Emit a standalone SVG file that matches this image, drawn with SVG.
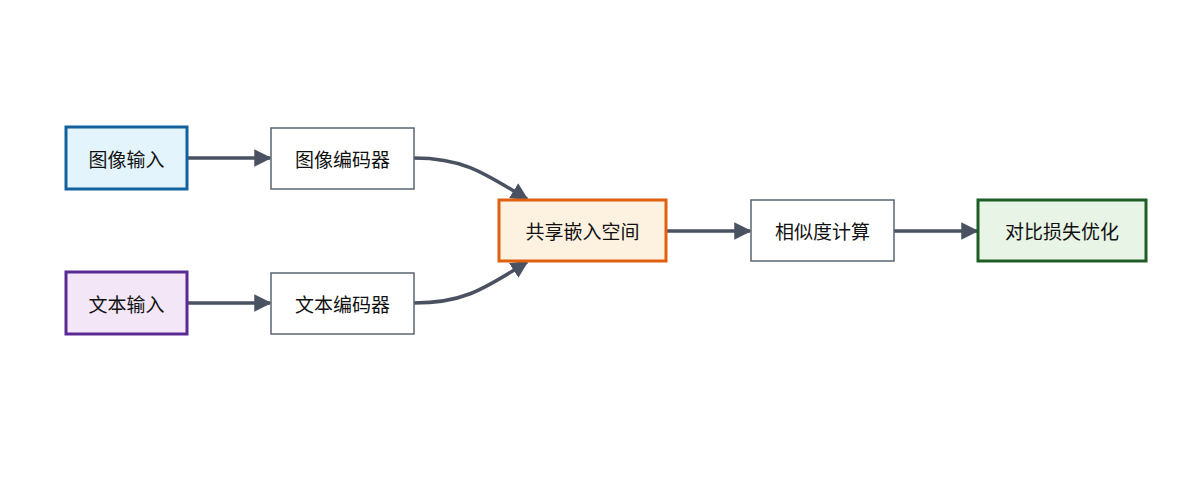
<svg xmlns="http://www.w3.org/2000/svg" width="1200" height="480" viewBox="0 0 1200 480">
<defs>
<marker id="ah" viewBox="0 0 10 10" refX="9" refY="5" markerWidth="5" markerHeight="5" orient="auto" markerUnits="strokeWidth"><path d="M0,0L10,5L0,10z" fill="#4a5261"/></marker>
<style>
text{font-family:"Noto Sans CJK SC","Liberation Sans",sans-serif;font-size:19px;fill:#111;text-anchor:middle;dominant-baseline:central}
.e{fill:none;stroke:#4a5261;stroke-width:3.5;marker-end:url(#ah)}
.p{fill:#fff;stroke:#5a6470;stroke-width:1.5}
</style>
</defs>
<rect width="1200" height="480" fill="#fff"/>
<g id="edges">
<path class="e" d="M187,158H270"/>
<path class="e" d="M187,303H270"/>
<path class="e" d="M414,158C460,158 480,170 527,199"/>
<path class="e" d="M414,303C460,303 480,292 527,262"/>
<path class="e" d="M666,231H750"/>
<path class="e" d="M894,231H977"/>
</g>
<g id="n1"><rect x="66" y="127" width="121" height="62" fill="#e3f4fc" stroke="#11629e" stroke-width="3"/><text x="126.500" y="158">图像输入</text></g>
<g id="n2"><rect x="66" y="272" width="121" height="62" fill="#f2e6f7" stroke="#5a2a94" stroke-width="3"/><text x="126.500" y="303">文本输入</text></g>
<g id="n3"><rect class="p" x="271" y="128" width="143" height="61"/><text x="342.500" y="158.500">图像编码器</text></g>
<g id="n4"><rect class="p" x="271" y="273" width="143" height="61"/><text x="342.500" y="303.500">文本编码器</text></g>
<g id="n5"><rect x="499" y="200" width="167" height="61" fill="#fdf1e0" stroke="#e0600f" stroke-width="3"/><text x="582.500" y="230.500">共享嵌入空间</text></g>
<g id="n6"><rect class="p" x="751" y="200" width="143" height="61"/><text x="822.500" y="230.500">相似度计算</text></g>
<g id="n7"><rect x="978" y="200" width="168" height="61" fill="#e7f4e6" stroke="#1e5e26" stroke-width="3"/><text x="1062" y="230.500">对比损失优化</text></g>
</svg>
